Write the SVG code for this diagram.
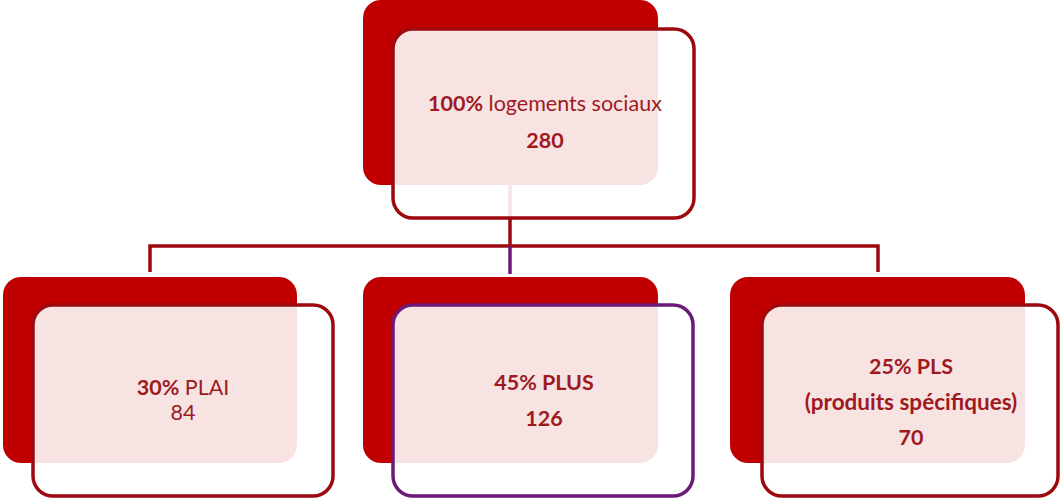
<svg xmlns="http://www.w3.org/2000/svg" width="1062" height="502" viewBox="0 0 1062 502">
<style>
.back{fill:#c00000}
.front{fill:#ffffff;fill-opacity:0.89;stroke:#9c0a10;stroke-width:3.5}
.frontp{fill:#ffffff;fill-opacity:0.89;stroke:#6b1a78;stroke-width:3.5}
.conn{fill:none;stroke:#9c0a10;stroke-width:3.5}
.connp{fill:none;stroke:#6b1a78;stroke-width:3.5}
text{font-family:Lato,"Open Sans",sans-serif;font-size:21.5px;fill:#9e1a1f;text-anchor:middle}
.b{font-weight:bold}
.bb{font-weight:bold;font-size:22.5px}
</style>
<rect width="1062" height="502" fill="#ffffff"/>
<g id="connectors">
<path class="conn" d="M510 185 V246 M150 272 V246 H878 V272"/>
<path class="connp" d="M510 246 V274"/>
</g>
<g id="node-top">
<rect class="back" x="363" y="0" width="295" height="185" rx="18"/>
<rect class="front" x="393" y="29" width="301" height="189" rx="20"/>
<text x="545" y="111"><tspan class="b">100%</tspan> logements sociaux</text>
<text class="b" x="545" y="148">280</text>
</g>
<g id="node-plai">
<rect class="back" x="3" y="277" width="294" height="186" rx="18"/>
<rect class="front" x="33" y="305" width="300" height="191" rx="20"/>
<text x="183" y="395"><tspan class="b">30%</tspan> PLAI</text>
<text x="183" y="420">84</text>
</g>
<g id="node-plus">
<rect class="back" x="363" y="277" width="295" height="186" rx="18"/>
<rect class="frontp" x="393" y="305" width="300" height="191" rx="20"/>
<text class="b" x="544" y="390">45% PLUS</text>
<text class="b" x="544" y="426">126</text>
</g>
<g id="node-pls">
<rect class="back" x="730" y="277" width="295" height="186" rx="18"/>
<rect class="front" x="762" y="305" width="296" height="191" rx="20"/>
<text class="b" x="911" y="374">25% PLS</text>
<text class="bb" x="911" y="410">(produits spécifiques)</text>
<text class="b" x="911" y="445">70</text>
</g>
</svg>
